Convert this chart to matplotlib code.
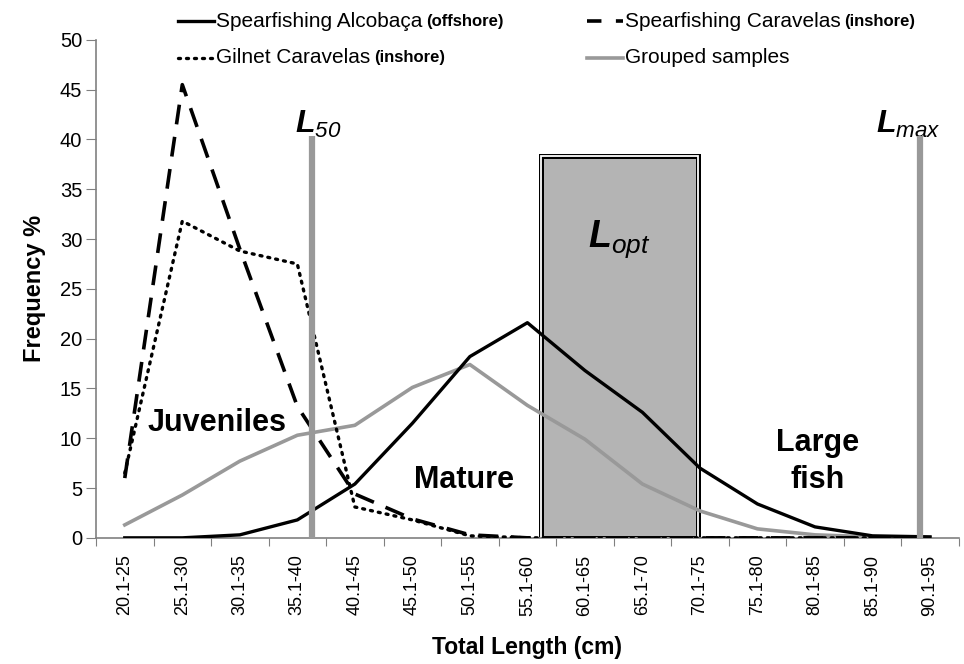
import matplotlib
matplotlib.use("Agg")
import matplotlib.pyplot as plt
from matplotlib.lines import Line2D
from matplotlib.patches import Rectangle

plt.rcParams["font.family"] = ["Liberation Sans", "DejaVu Sans"]
plt.rcParams["mathtext.fontset"] = "custom"
plt.rcParams["mathtext.bf"] = "Liberation Sans:italic:bold"
plt.rcParams["mathtext.it"] = "Liberation Sans:italic"
plt.rcParams["mathtext.rm"] = "Liberation Sans:italic"

classes = ["20.1-25", "25.1-30", "30.1-35", "35.1-40", "40.1-45", "45.1-50",
           "50.1-55", "55.1-60", "60.1-65", "65.1-70", "70.1-75", "75.1-80",
           "80.1-85", "85.1-90", "90.1-95"]

alcobaca = [0, 0, 0.3, 1.8, 5.4, 11.5, 18.2, 21.6, 16.8, 12.6, 7.0, 3.4, 1.1, 0.2, 0.1]
caravelas_spear = [6.0, 45.5, 29.0, 13.2, 4.4, 1.9, 0.3, 0, 0, 0, 0, 0, 0, 0, 0]
caravelas_gill = [6.5, 31.8, 28.8, 27.5, 3.1, 1.8, 0.2, 0, 0, 0, 0, 0, 0, 0, 0]
grouped = [1.3, 4.3, 7.7, 10.3, 11.3, 15.1, 17.4, 13.3, 9.9, 5.4, 2.7, 0.9, 0.3, 0.1, 0]

# reference lengths, in class-position units
l50_pos, lmax_pos = 3.25, 13.83
lopt_range = (7.23, 9.97)
ref_height = 40.3
lopt_height = 38.3

x = list(range(len(classes)))

fig = plt.figure(figsize=(9.64, 6.64), dpi=100)
ax = fig.add_axes([0.0996, 0.19, 0.895, 0.75])

# optimum length box with double border
ax.add_patch(Rectangle((lopt_range[0], 0), lopt_range[1] - lopt_range[0], lopt_height,
                       facecolor="#b4b4b4", edgecolor="black", linewidth=3.6, zorder=1))
ax.add_patch(Rectangle((lopt_range[0], 0), lopt_range[1] - lopt_range[0], lopt_height,
                       facecolor="none", edgecolor="white", linewidth=1.3, zorder=1.1))

ax.plot(x, grouped, color="#999999", lw=2.6, zorder=3)
ax.plot(x, alcobaca, color="black", lw=2.4, zorder=4)
ax.plot(x, caravelas_spear, color="black", lw=2.6, dashes=(5.5, 3.5), zorder=4)
ax.plot(x, caravelas_gill, color="black", lw=2.4, linestyle=(0, (0.6, 1.8)),
        dash_capstyle="round", zorder=4)

ax.vlines([l50_pos, lmax_pos], 0, ref_height, color="#999999", lw=4.5, zorder=5)

ax.text(l50_pos + 0.12, 41.5, r"$\mathbf{L}_{50}$", fontsize=23, ha="center", va="center")
ax.text(lmax_pos - 0.2, 41.5, r"$\mathbf{L}_{max}$", fontsize=23, ha="center", va="center")
ax.text(sum(lopt_range) / 2, 30, r"$\mathbf{L}_{opt}$", fontsize=27, ha="center", va="center")

ax.text(1.6, 11.5, "Juveniles", fontsize=22, fontweight="bold", ha="center", va="center")
ax.text(5.9, 5.8, "Mature", fontsize=22, fontweight="bold", ha="center", va="center")
ax.text(12.05, 7.7, "Large\nfish", fontsize=22, fontweight="bold", ha="center", va="center",
        linespacing=1.3)

ax.set_xlim(-0.5, 14.5)
ax.set_ylim(0, 50)
ax.set_yticks(range(0, 51, 5))
ax.tick_params(axis="y", labelsize=14.5, length=7, color="#808080", pad=3)

ax.set_xticks([i - 0.5 for i in range(len(classes) + 1)])
ax.set_xticklabels([])
ax.set_xticks(x, minor=True)
ax.set_xticklabels(classes, minor=True, rotation=90, fontsize=13)
ax.tick_params(axis="x", which="major", length=6, color="#808080")
ax.tick_params(axis="x", which="minor", length=0, pad=12)

for side in ["top", "right"]:
    ax.spines[side].set_visible(False)
for side in ["left", "bottom"]:
    ax.spines[side].set_color("#808080")
    ax.spines[side].set_linewidth(1.2)

ax.set_xlabel("Total Length (cm)", fontsize=16.5, fontweight="bold", labelpad=15)
ax.set_ylabel("Frequency %", fontsize=17, fontweight="bold", labelpad=10)

# legend drawn by hand so the habitat note can be smaller and bold
entries = [
    (0.185, 0.968, dict(color="black", lw=2.4), "Spearfishing Alcobaça", "(offshore)"),
    (0.609, 0.968, dict(color="black", lw=2.6, dashes=(4.0, 4.0)), "Spearfishing Caravelas", "(inshore)"),
    (0.185, 0.913, dict(color="black", lw=2.4, linestyle=(0, (0.6, 1.8)), dash_capstyle="round"),
     "Gilnet Caravelas", "(inshore)"),
    (0.609, 0.913, dict(color="#999999", lw=2.6), "Grouped samples", ""),
]
renderer = fig.canvas.get_renderer()
for lx, ly, style, label, note in entries:
    fig.add_artist(Line2D([lx, lx + 0.037], [ly, ly], transform=fig.transFigure, **style))
    t = fig.text(lx + 0.039, ly, label, fontsize=15, va="center", ha="left")
    if note:
        bb = t.get_window_extent(renderer=renderer)
        fig.text(bb.x1 / fig.bbox.width + 0.004, ly, note, fontsize=12, fontweight="bold",
                 va="center", ha="left")

fig.savefig("out.png", dpi=100)
